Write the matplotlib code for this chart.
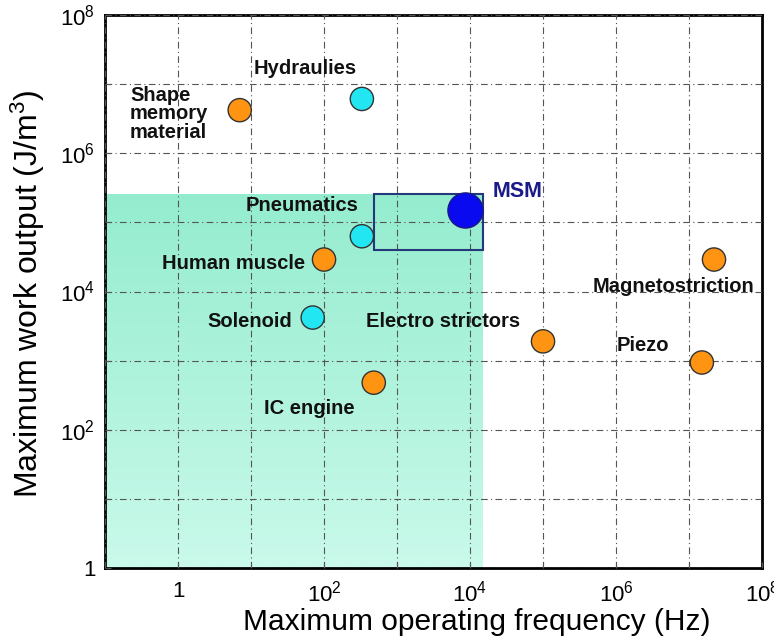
import numpy as np
import matplotlib.pyplot as plt
from matplotlib.patches import Rectangle
from matplotlib.colors import LinearSegmentedColormap

plt.rcParams['font.family'] = ['Liberation Sans', 'DejaVu Sans']
plt.rcParams['mathtext.fontset'] = 'custom'
plt.rcParams['mathtext.rm'] = 'Liberation Sans'
plt.rcParams['mathtext.it'] = 'Liberation Sans'

# actuator technologies: operating frequency (Hz) vs work output (J/m^3)
names = ['Shape memory material', 'Hydraulies', 'Pneumatics', 'Human muscle',
         'Solenoid', 'IC engine', 'Electro strictors', 'Piezo', 'Magnetostriction']
freq = [7, 330, 330, 100, 70, 480, 1.0e5, 1.5e7, 2.2e7]
work = [4.2e6, 6.1e6, 6.3e4, 2.9e4, 4.2e3, 480, 1.9e3, 940, 2.9e4]
kind = ['o', 'c', 'c', 'o', 'c', 'o', 'o', 'o', 'o']

msm_freq = 8500
msm_work = 1.5e5
msm_box_f = (490, 1.5e4)
msm_box_w = (4.0e4, 2.6e5)

# shaded zone
zone_f = (0.1, 1.5e4)
zone_w = (1, 2.6e5)

# label text and anchor (x, y, ha)
labels = [
    ('Hydraulies', 55, 1.7e7, 'center'),
    ('Shape\nmemory\nmaterial', 0.22, 3.7e6, 'left'),
    ('Pneumatics', 50, 1.75e5, 'center'),
    ('Human muscle', 5.8, 2.5e4, 'center'),
    ('Solenoid', 9.5, 3.7e3, 'center'),
    ('Electro strictors', 4300, 3.7e3, 'center'),
    ('IC engine', 62, 200, 'center'),
    ('Piezo', 2.3e6, 1630, 'center'),
    ('Magnetostriction', 6.2e6, 1.2e4, 'center'),
]

colors = {'o': '#ff9412', 'c': '#22e6f2'}

fig = plt.figure(figsize=(7.74, 6.43), dpi=100)
ax = fig.add_axes([0.1357, 0.1166, 0.8488, 0.8601])
ax.set_xscale('log')
ax.set_yscale('log')

# vertical gradient for the shaded zone, even steps on the log axis
ny = 200
y_edges = np.logspace(np.log10(zone_w[0]), np.log10(zone_w[1]), ny + 1)
x_edges = np.array(zone_f)
shade = np.arange(ny).reshape(-1, 1)
cmap = LinearSegmentedColormap.from_list('zone', ['#c9f9ea', '#94ecce'])
ax.pcolormesh(x_edges, y_edges, shade, cmap=cmap, shading='flat', zorder=0,
              rasterized=True)
ax.set_xlim(0.1, 1e8)
ax.set_ylim(1, 1e8)

ax.set_xticks([10.0 ** k for k in range(-1, 9)])
ax.set_yticks([10.0 ** k for k in range(0, 9)])
ax.set_xticklabels(['' if k % 2 else ('1' if k == 0 else '$10^{%d}$' % k) for k in range(-1, 9)])
ax.set_yticklabels(['' if k % 2 else ('1' if k == 0 else '$10^{%d}$' % k) for k in range(0, 9)])
ax.minorticks_off()
ax.tick_params(direction='in', length=4, width=0.8, labelsize=16, color='#555555')
ax.tick_params(axis='y', pad=7)
ax.tick_params(axis='x', pad=9)
ax.grid(True, which='major', color='#555555', linestyle=(0, (6, 3, 1, 3)), linewidth=0.8)
ax.set_axisbelow(False)
for sp in ax.spines.values():
    sp.set_linewidth(2)

ax.add_patch(Rectangle((msm_box_f[0], msm_box_w[0]), msm_box_f[1] - msm_box_f[0],
                       msm_box_w[1] - msm_box_w[0], fill=False,
                       edgecolor='#23397a', linewidth=1.5, zorder=3))

ax.scatter(freq, work, s=280, c=[colors[k] for k in kind], edgecolors='#333333',
           linewidths=1.0, zorder=4)
ax.scatter([msm_freq], [msm_work], s=640, c='#0a0af0', edgecolors='#1a1a80',
           linewidths=1.0, zorder=4)

for txt, x, y, ha in labels:
    ax.text(x, y, txt, ha=ha, va='center', fontsize=14.5, fontweight='bold',
            linespacing=0.95, color='#111111', zorder=5)
ax.text(4.5e4, 2.8e5, 'MSM', ha='center', va='center', fontsize=15.5,
        fontweight='bold', color='#1a1a88', zorder=5)

# axis titles placed as figure text
fig.text(0.6163, 0.0327, 'Maximum operating frequency (Hz)', fontsize=21.5,
         ha='center', va='center')
fig.text(0.0362, 0.5428, 'Maximum work output (J/m$^3$)', fontsize=23,
         ha='center', va='center', rotation=90)

fig.savefig('out.png', dpi=100)
